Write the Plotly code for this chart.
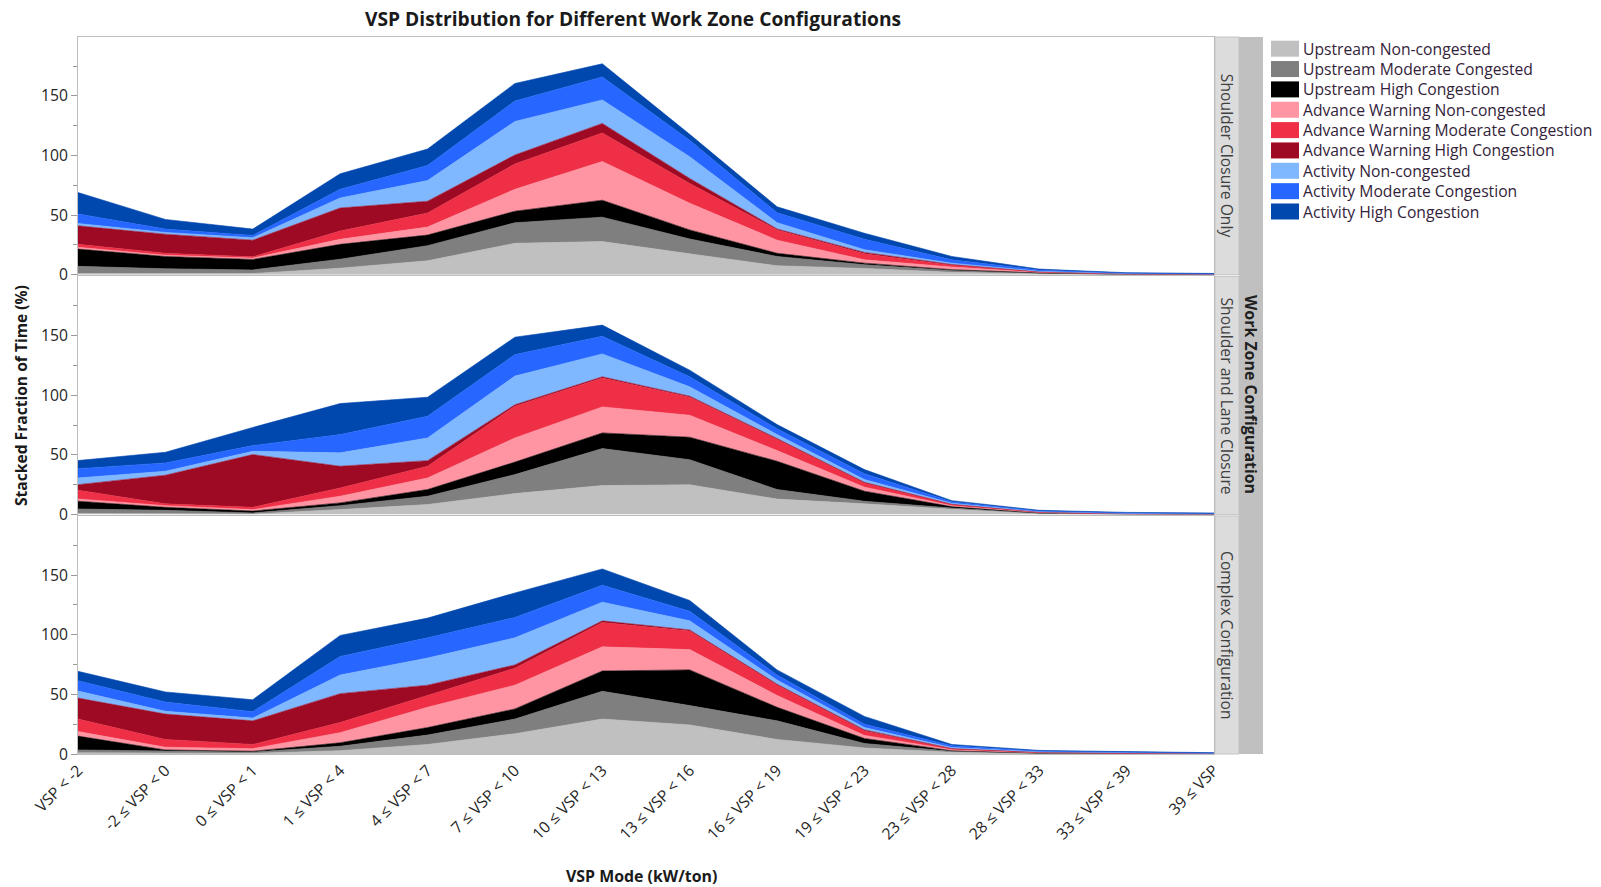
import plotly.graph_objects as go

categories = ["VSP < -2", "-2 ≤ VSP < 0", "0 ≤ VSP < 1", "1 ≤ VSP < 4", "4 ≤ VSP < 7",
              "7 ≤ VSP < 10", "10 ≤ VSP < 13", "13 ≤ VSP < 16", "16 ≤ VSP < 19",
              "19 ≤ VSP < 23", "23 ≤ VSP < 28", "28 ≤ VSP < 33", "33 ≤ VSP < 39", "39 ≤ VSP"]

series_names = ["Upstream Non-congested", "Upstream Moderate Congested", "Upstream High Congestion",
                "Advance Warning Non-congested", "Advance Warning Moderate Congestion",
                "Advance Warning High Congestion", "Activity Non-congested",
                "Activity Moderate Congestion", "Activity High Congestion"]

series_colors = ["#C0C0C0", "#7F7F7F", "#000000", "#FF95A3", "#EE2F45", "#9E0A23",
                 "#80B8FF", "#2766FF", "#0047AE"]

panel_names = ["Shoulder Closure Only", "Shoulder and Lane Closure", "Complex Configuration"]

# values per series (rows) across the 14 VSP modes (columns)
shoulder_only = [
    [1.0, 1.0, 1.0, 5.5, 11.7, 26.4, 27.8, 17.5, 7.5, 5.3, 2.0, 0.8, 0.2, 0.1],
    [6.0, 4.0, 3.0, 7.5, 12.7, 17.2, 20.5, 12.5, 7.8, 3.1, 1.6, 0.5, 0.1, 0.05],
    [14.5, 10.3, 8.8, 12.5, 8.9, 9.7, 14.2, 7.6, 2.7, 1.3, 0.6, 0.3, 0.1, 0.05],
    [1.5, 1.1, 1.2, 4.2, 6.7, 18.4, 32.5, 22.4, 11.0, 2.8, 2.2, 0.5, 0.2, 0.1],
    [2.5, 1.6, 1.0, 7.0, 11.7, 21.3, 24.0, 16.6, 8.6, 5.0, 1.6, 0.3, 0.1, 0.05],
    [15.5, 16.0, 14.0, 19.3, 10.0, 7.5, 8.0, 4.2, 0.8, 1.2, 0.6, 0.1, 0.05, 0.0],
    [2.0, 1.5, 2.0, 8.4, 17.3, 28.1, 19.7, 18.2, 5.3, 2.3, 1.1, 0.4, 0.2, 0.1],
    [8.0, 2.8, 2.0, 7.3, 12.7, 17.2, 19.3, 13.8, 8.3, 8.8, 2.8, 1.0, 0.4, 0.3],
    [18.0, 8.1, 5.3, 13.0, 13.8, 14.7, 11.0, 5.0, 5.0, 5.0, 2.8, 0.8, 0.3, 0.3],
]

shoulder_and_lane = [
    [1.0, 1.0, 0.5, 4.2, 8.4, 17.6, 24.3, 25.0, 13.0, 9.0, 4.5, 0.8, 0.3, 0.1],
    [3.7, 2.6, 0.9, 3.3, 7.0, 15.9, 31.0, 21.0, 8.0, 2.2, 1.0, 0.3, 0.1, 0.05],
    [6.5, 2.5, 1.6, 2.3, 5.6, 10.5, 13.1, 18.8, 23.7, 8.4, 1.2, 0.4, 0.1, 0.05],
    [1.9, 1.4, 1.2, 5.6, 9.7, 20.2, 21.8, 18.4, 8.9, 3.4, 0.8, 0.3, 0.1, 0.1],
    [7.3, 1.5, 1.9, 6.9, 9.8, 26.6, 24.3, 15.1, 9.2, 3.5, 1.0, 0.3, 0.1, 0.05],
    [4.7, 24.0, 44.2, 18.2, 4.7, 1.2, 0.9, 0.9, 0.9, 0.5, 0.2, 0.1, 0.05, 0.0],
    [5.6, 3.3, 2.7, 11.2, 19.0, 24.0, 19.2, 7.8, 3.3, 2.3, 0.8, 0.3, 0.2, 0.2],
    [7.8, 7.0, 4.8, 15.3, 18.2, 18.0, 14.8, 8.4, 4.8, 5.0, 1.2, 0.6, 0.5, 0.4],
    [6.8, 8.9, 15.2, 26.0, 15.9, 14.6, 9.3, 5.6, 3.6, 3.4, 1.0, 0.5, 0.4, 0.4],
]

complex_config = [
    [1.0, 0.8, 0.6, 2.8, 8.0, 17.0, 29.3, 24.4, 12.2, 5.1, 1.5, 0.4, 0.2, 0.1],
    [2.4, 1.5, 1.1, 3.7, 7.9, 12.3, 23.3, 16.2, 15.6, 3.7, 0.8, 0.2, 0.1, 0.05],
    [11.6, 1.1, 0.6, 2.9, 6.3, 8.5, 17.0, 29.9, 11.4, 4.2, 0.5, 0.2, 0.1, 0.05],
    [3.8, 2.3, 2.2, 8.5, 17.0, 19.9, 20.2, 17.0, 9.9, 2.6, 0.8, 0.3, 0.2, 0.1],
    [10.5, 6.5, 3.5, 8.5, 9.9, 14.2, 20.4, 15.5, 8.6, 3.7, 0.8, 0.3, 0.2, 0.1],
    [17.6, 21.3, 19.8, 24.2, 8.6, 2.8, 1.4, 1.0, 0.8, 0.9, 0.2, 0.1, 0.05, 0.0],
    [5.9, 2.3, 2.3, 15.6, 22.7, 22.7, 15.7, 7.6, 3.5, 2.0, 0.8, 0.4, 0.3, 0.2],
    [8.6, 7.7, 5.4, 15.6, 17.0, 17.1, 14.2, 8.0, 4.2, 2.8, 1.6, 0.6, 0.5, 0.3],
    [7.9, 8.5, 10.0, 17.6, 16.5, 20.5, 13.6, 9.1, 4.3, 6.5, 1.0, 0.5, 0.35, 0.2],
]

panels = [shoulder_only, shoulder_and_lane, complex_config]

# ---- layout geometry (pixels) ----
W, H = 1601, 887
L, R_EDGE = 78, 1214
T, B_EDGE = 37, 754
PW = R_EDGE - L
PH = B_EDGE - T


def px(x):
    return (x - L) / PW


def py(y):
    return (B_EDGE - y) / PH


panel_px = [(37, 274.7), (276.4, 514.6), (516.0, 754.0)]
domains = [[py(b), py(t)] for (t, b) in panel_px]

FONT = "Open Sans"
TXT = "#262626"
FS = 15.7

fig = go.Figure()
for p, data in enumerate(panels):
    xa = "x" if p == 0 else f"x{p + 1}"
    ya = "y" if p == 0 else f"y{p + 1}"
    for s, vals in enumerate(data):
        fig.add_trace(go.Scatter(
            x=categories, y=vals, stackgroup=f"g{p}", mode="lines",
            line=dict(width=0.6, color=series_colors[s]),
            fillcolor=series_colors[s], name=series_names[s],
            showlegend=False, xaxis=xa, yaxis=ya,
        ))

layout = dict(
    width=W, height=H,
    margin=dict(l=L, r=W - R_EDGE, t=T, b=H - B_EDGE, pad=0),
    paper_bgcolor="white", plot_bgcolor="white",
    font=dict(family=FONT, size=FS, color=TXT),
    showlegend=False,
)

for p in range(3):
    xk = "xaxis" if p == 0 else f"xaxis{p + 1}"
    yk = "yaxis" if p == 0 else f"yaxis{p + 1}"
    ya = "y" if p == 0 else f"y{p + 1}"
    xa = "x" if p == 0 else f"x{p + 1}"
    layout[xk] = dict(
        type="category", categoryorder="array", categoryarray=categories,
        range=[0, 13], anchor=ya, domain=[0, 1],
        showline=True, mirror=True, linecolor="#BDBDBD", linewidth=1,
        showgrid=False, zeroline=False, ticks="",
        showticklabels=(p == 2), tickangle=-45,
        tickfont=dict(family=FONT, size=FS, color=TXT),
    )
    layout[yk] = dict(
        domain=domains[p], anchor=xa, range=[0, 199.5],
        tick0=0, dtick=50, ticks="outside", ticklen=6, tickcolor="#9A9A9A",
        minor=dict(dtick=25, ticks="outside", ticklen=4, tickcolor="#9A9A9A"),
        showline=True, mirror=True, linecolor="#BDBDBD", linewidth=1,
        showgrid=False, zeroline=False,
        tickfont=dict(family=FONT, size=FS, color=TXT),
    )

fig.update_layout(**layout)

shapes = []
annotations = []

# strips
for p, (t, b) in enumerate(panel_px):
    shapes.append(dict(type="rect", xref="paper", yref="paper",
                       x0=px(1215), x1=px(1239), y0=py(b), y1=py(t),
                       fillcolor="#DCDCDC", line=dict(color="#C4C4C4", width=1), layer="below"))
    annotations.append(dict(xref="paper", yref="paper", x=px(1227), y=py((t + b) / 2),
                            text=panel_names[p], textangle=90, showarrow=False,
                            font=dict(family=FONT, size=FS, color="#404040"),
                            xanchor="center", yanchor="middle"))
shapes.append(dict(type="rect", xref="paper", yref="paper",
                   x0=px(1239), x1=px(1263), y0=py(754), y1=py(37),
                   fillcolor="#C0C0C0", line=dict(color="#C0C0C0", width=0), layer="below"))
annotations.append(dict(xref="paper", yref="paper", x=px(1251), y=py(394),
                        text="<b>Work Zone Configuration</b>", textangle=90, showarrow=False,
                        font=dict(family=FONT, size=15.9, color="#202020"),
                        xanchor="center", yanchor="middle"))

# legend
for i, (name, col) in enumerate(zip(series_names, series_colors)):
    yc = 48.7 + 20.35 * i
    shapes.append(dict(type="rect", xref="paper", yref="paper",
                       x0=px(1271), x1=px(1299), y0=py(yc + 8), y1=py(yc - 8),
                       fillcolor=col, line=dict(width=0)))
    annotations.append(dict(xref="paper", yref="paper", x=px(1301), y=py(yc),
                            text=name, showarrow=False, xanchor="left", yanchor="middle",
                            font=dict(family=FONT, size=FS, color="#33233A")))

# titles
annotations.append(dict(xref="paper", yref="paper", x=px(633), y=py(18.5),
                        text="<b>VSP Distribution for Different Work Zone Configurations</b>",
                        showarrow=False, xanchor="center", yanchor="middle",
                        font=dict(family=FONT, size=19.2, color="#1A1A1A")))
annotations.append(dict(xref="paper", yref="paper", x=px(21), y=py(396),
                        text="<b>Stacked Fraction of Time (%)</b>", textangle=-90,
                        showarrow=False, xanchor="center", yanchor="middle",
                        font=dict(family=FONT, size=15.6, color="#1A1A1A")))
annotations.append(dict(xref="paper", yref="paper", x=px(641), y=py(876),
                        text="<b>VSP Mode (kW/ton)</b>",
                        showarrow=False, xanchor="center", yanchor="middle",
                        font=dict(family=FONT, size=15.9, color="#1A1A1A")))

fig.update_layout(shapes=shapes, annotations=annotations)
fig.write_html("out.html")
